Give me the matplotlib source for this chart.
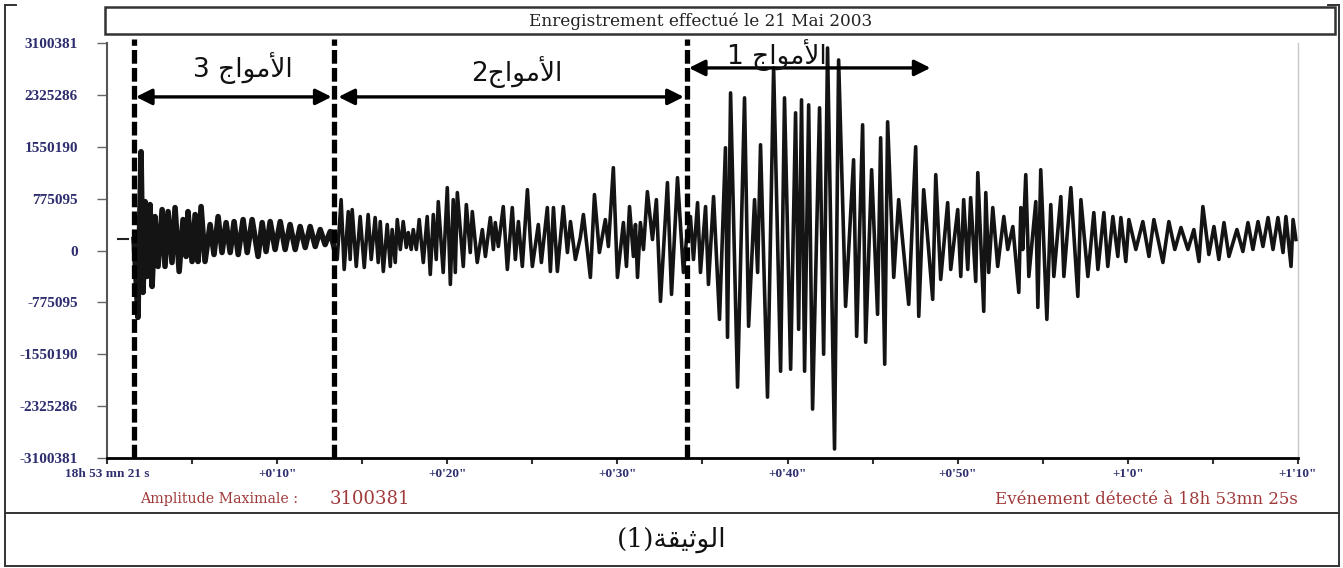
import matplotlib
matplotlib.use("Agg")
import matplotlib.pyplot as plt
from matplotlib.lines import Line2D
from matplotlib.patches import Rectangle

# ---------------- data ----------------
# time after 18h 53 mn 21 s (seconds)
time_s = [
    1.59, 1.82, 2.00, 2.12, 2.24, 2.35, 2.53, 2.65, 2.82, 3.00, 3.24, 3.41, 3.59, 3.82,
    4.00, 4.24, 4.47, 4.65, 4.76, 5.00, 5.18, 5.35, 5.53, 5.76, 6.06, 6.29, 6.53, 6.76,
    7.00, 7.24, 7.47, 7.71, 8.00, 8.24, 8.53, 8.88, 9.12, 9.35, 9.59, 9.88, 10.18, 10.47,
    10.76, 11.06, 11.35, 11.65, 11.94, 12.24, 12.53, 12.82, 13.12, 13.35,
    13.53, 13.76, 13.94, 14.18, 14.29, 14.41, 14.65, 14.88, 15.12, 15.35, 15.53, 15.76,
    15.94, 16.06, 16.24, 16.47, 16.65, 16.76, 16.94, 17.06, 17.24, 17.41, 17.59, 17.71,
    17.88, 18.00, 18.18, 18.35, 18.59, 18.82, 19.00, 19.18, 19.35, 19.47, 19.76, 20.00,
    20.18, 20.35, 20.47, 20.59, 20.94, 21.12, 21.35, 21.47, 21.76, 22.06, 22.24, 22.53,
    22.71, 22.82, 23.00, 23.29, 23.53, 23.82, 24.00, 24.18, 24.41, 24.71, 24.88, 25.00,
    25.35, 25.53, 25.88, 26.06, 26.24, 26.47, 26.82, 27.06, 27.24, 27.53, 27.82, 28.00,
    28.41, 28.65, 28.94, 29.29, 29.47, 29.76, 30.00, 30.35, 30.53, 30.71, 30.94, 31.06,
    31.18, 31.35, 31.53, 31.76, 32.06, 32.29, 32.53, 32.94, 33.18, 33.53, 33.88, 34.06,
    34.29, 34.47, 34.71, 34.88, 35.18, 35.35, 35.65, 36.00, 36.35, 36.47, 36.65, 37.06,
    37.47, 37.71, 38.06, 38.24, 38.41, 38.82, 39.18, 39.59, 39.82, 40.18, 40.47, 40.65,
    40.82, 41.00, 41.24, 41.47, 41.88, 42.12, 42.35, 42.76, 43.00, 43.41, 43.88, 44.06,
    44.41, 44.59, 44.94, 45.29, 45.47, 45.71, 45.88, 46.24, 46.53, 47.12, 47.53, 47.71,
    48.00, 48.53, 48.71, 49.00, 49.41, 49.59, 50.00, 50.18, 50.35, 50.59, 50.76, 51.06,
    51.18, 51.53, 51.65, 51.82, 52.06, 52.35, 52.71, 52.94, 53.24, 53.59, 53.71, 53.82,
    54.00, 54.18, 54.59, 54.71, 54.88, 55.24, 55.47, 55.65, 56.06, 56.24, 56.65, 57.06,
    57.24, 57.65, 58.00, 58.24, 58.59, 58.82, 59.12, 59.41, 59.59, 59.88, 60.06, 60.47,
    60.88, 61.24, 61.53, 62.06, 62.41, 62.76, 63.12, 63.53, 63.88, 64.18, 64.41, 64.76,
    65.06, 65.35, 65.65, 65.94, 66.41, 66.76, 67.06, 67.35, 67.65, 67.94, 68.24, 68.53,
    68.82, 69.12, 69.29, 69.59, 69.71, 69.88,
]
# amplitude (thousands of counts)
amp_k = [
    164, -999, 1476, -626, 730, -388, 686, -537, 507, -238, 611, -238, 581, -179,
    641, -313, 462, -89, 581, -164, 537, -164, 656, -164, 388, -60, 507, -30,
    417, -30, 432, -60, 462, -30, 462, -89, 417, -15, 432, 15, 432, 15,
    388, 15, 358, 45, 358, 60, 313, 89, 283, 45,
    -134, 760, -283, 581, -134, 611, -238, 507, -253, 537, -134, 492,
    -179, 432, -313, 388, -238, 313, -179, 462, 15, 432, 45, 268,
    15, 313, 15, 462, -179, 507, -358, 537, -134, 730, -328, 939,
    -507, 760, -328, 865, -238, 686, -30, 581, -179, 313, -89, 492,
    15, 417, 60, 656, -283, 641, -134, 432, -238, 909, 164, -238,
    388, -179, 641, -313, 641, -313, 656, -30, 432, -134, 194, 537,
    -402, 835, -30, 462, 60, 1237, -402, 417, -238, 656, -89, 388,
    -402, 417, 15, 879, 164, 760, -760, 1014, -656, 1088, -328, 164,
    507, -134, 715, -328, 656, -507, 805, -1029, 1535, -1297, 2355, -2042,
    2281, -1133, 760, -328, 1580, -2191, 2728, -1804, 2281, -1774, 2057, -1178,
    2251, -1804, 2176, -2370, 2132, -1550, 3026, -2966, 2847, -835, 1356, -1282,
    1878, -1371, 1207, -954, 1684, -1699, 1923, -402, 760, -805, 1550, -984,
    909, -730, 1133, -432, 715, -283, 611, -388, 760, -283, 790, -462,
    1163, -909, 865, -328, 641, -238, 507, 15, 358, -626, 641, 15,
    1133, -388, 730, -850, 1207, -1029, 686, -388, 805, -388, 939, -686,
    760, -388, 566, -283, 566, -238, 507, -89, 492, -164, 462, 15,
    432, -89, 462, -179, 432, 15, 343, 15, 313, -164, 656, -60,
    358, -134, 417, -89, 313, -15, 417, 15, 432, 60, 492, 15,
    492, -30, 507, -238, 462, 164,
]
amplitude = [a * 1000 for a in amp_k]
n_first_segment = 52   # samples before the second boundary (dense part)

# small zero marker before the trace starts
marker_t = [0.65, 1.25]
marker_v = [179000, 179000]

y_ticks = [-3100381, -2325286, -1550190, -775095, 0, 775095, 1550190, 2325286, 3100381]
y_labels = ["-3100381", "-2325286", "-1550190", "-775095", "0", "775095", "1550190", "2325286", "3100381"]
x_ticks = [0, 10, 20, 30, 40, 50, 60, 70]
x_labels = ["18h 53 mn 21 s", "+0'10\"", "+0'20\"", "+0'30\"", "+0'40\"", "+0'50\"", "+1'0\"", "+1'10\""]
x_minor = [5, 15, 25, 35, 45, 55, 65]

wave_bounds = [1.6, 13.35, 34.1]
wave_spans = [(1.7, 13.2), (13.6, 33.9), (34.2, 48.4)]
wave_arrow_y = [2295000, 2295000, 2728000]

# Arabic labels (presentation forms, visual order)
word_waves = "\uFE9D\uFE8D\uFEEE\uFEE3\uFEF7\uFE8D"      # الأمواج
word_doc = "\uFE94\uFED8\uFEF4\uFE9B\uFEEE\uFEDF\uFE8D"   # الوثيقة
wave_labels = ["3 " + word_waves, "2" + word_waves, "1 " + word_waves]
wave_label_pos = [(8.0, 2728000), (24.06, 2668000), (39.35, 2921000)]

NAVY = "#2e2e6e"
DARKRED = "#a03a3a"

fig = plt.figure(figsize=(13.43, 5.68), dpi=100)
W, H = 1343, 568

def fx(px):
    return px / W

def fy(py):
    return 1 - py / H

ax = fig.add_axes([fx(107), fy(458), fx(1298) - fx(107), fy(43) - fy(458)])

ax.plot(time_s, amplitude, color="#141414", lw=2.6, solid_joinstyle="round")
ax.plot(time_s[:n_first_segment], amplitude[:n_first_segment], color="#141414", lw=4.0,
        solid_joinstyle="round")
ax.plot(marker_t, marker_v, color="#222222", lw=1.5)

for b in wave_bounds:
    ax.axvline(b, ymin=0, ymax=1.01, color="black", lw=3.8, linestyle=(0, (2.6, 0.8)), clip_on=False)

for (s, e), yv in zip(wave_spans, wave_arrow_y):
    ax.annotate("", xy=(e, yv), xytext=(s, yv),
                arrowprops=dict(arrowstyle="<|-|>", lw=2.4, color="black",
                                mutation_scale=24, shrinkA=0, shrinkB=0))

for lab, (tx, ty) in zip(wave_labels, wave_label_pos):
    ax.text(tx, ty, lab, ha="center", va="center", fontsize=19, family="DejaVu Sans", color="#111111")

ax.set_xlim(0, 70)
ax.set_ylim(-3100381, 3100381)
ax.set_yticks(y_ticks)
ax.set_yticklabels(y_labels, fontsize=11, family="Liberation Serif", fontweight="bold", color=NAVY)
ax.set_xticks(x_ticks)
ax.set_xticklabels(x_labels, fontsize=9.5, family="Liberation Serif", fontweight="bold", color=NAVY)
ax.set_xticks(x_minor, minor=True)
ax.tick_params(axis="y", length=7, width=1, color="#666666", pad=14)
ax.tick_params(axis="x", which="both", length=4, width=1.5, color="#333333", pad=3)

ax.spines["top"].set_visible(False)
ax.spines["left"].set_color("#555555")
ax.spines["left"].set_linewidth(1.5)
ax.spines["bottom"].set_color("black")
ax.spines["bottom"].set_linewidth(2)
ax.spines["right"].set_color("#c8c8c8")
ax.spines["right"].set_linewidth(1)

# title box
fig.add_artist(Rectangle((fx(105), fy(34)), fx(1335) - fx(105), fy(7) - fy(34),
                         transform=fig.transFigure, fill=False, edgecolor="#333333", lw=1.8))
fig.text(fx(701), fy(21), "Enregistrement effectué le 21 Mai 2003", ha="center", va="center",
         fontsize=12.2, family="DejaVu Serif", color="#222222")

# footer texts
fig.text(fx(140), fy(499), "Amplitude Maximale :", ha="left", va="center",
         fontsize=10.2, family="DejaVu Serif", color=DARKRED)
fig.text(fx(330), fy(499), "3100381", ha="left", va="center",
         fontsize=13, family="DejaVu Serif", color=DARKRED)
fig.text(fx(1298), fy(499), "Evénement détecté à 18h 53mn 25s", ha="right", va="center",
         fontsize=12, family="DejaVu Serif", color=DARKRED)

# outer frame
frame_kw = dict(transform=fig.transFigure, color="#333333", lw=1.4)
fig.add_artist(Line2D([fx(5), fx(5)], [fy(5), fy(566)], **frame_kw))
fig.add_artist(Line2D([fx(1339), fx(1339)], [fy(5), fy(566)], **frame_kw))
fig.add_artist(Line2D([fx(5), fx(1339)], [fy(566), fy(566)], **frame_kw))
fig.add_artist(Line2D([fx(5), fx(1339)], [fy(513), fy(513)], **frame_kw))
fig.add_artist(Line2D([fx(5), fx(16)], [fy(5), fy(5)], **frame_kw))
fig.add_artist(Line2D([fx(1328), fx(1339)], [fy(5), fy(5)], **frame_kw))

fig.text(fx(672), fy(540), "(1)" + word_doc, ha="center", va="center",
         fontsize=19, family=["DejaVu Serif", "DejaVu Sans"], color="#111111")

fig.savefig("out.png", dpi=100)
